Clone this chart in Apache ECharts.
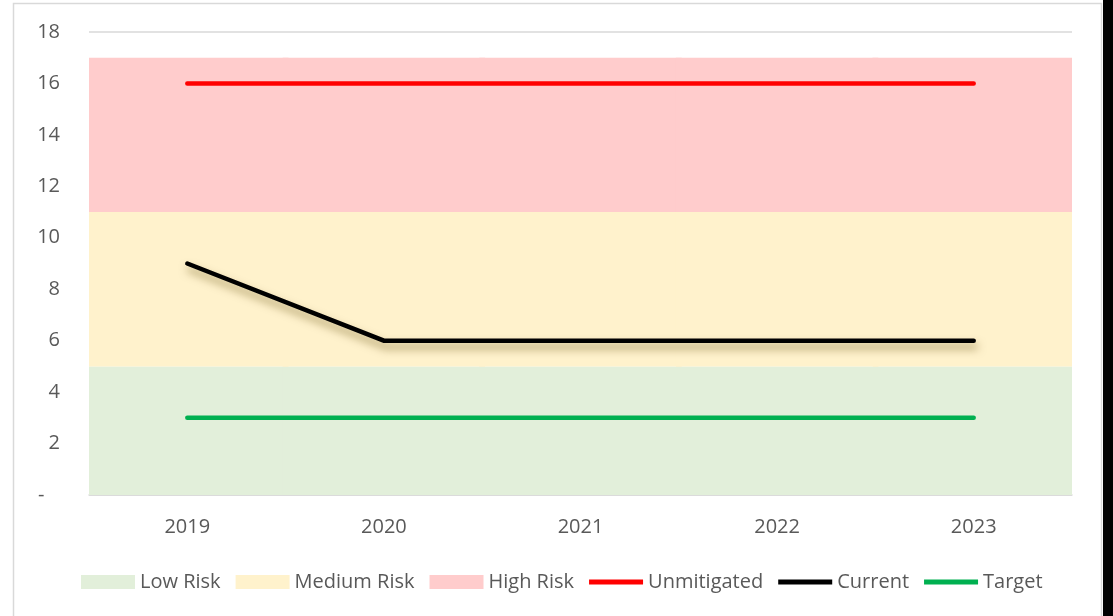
<!DOCTYPE html>
<html><head><meta charset="utf-8">
<script src="https://cdn.jsdelivr.net/npm/echarts@6/dist/echarts.min.js"></script>
<style>html,body{margin:0;padding:0;background:#fff}#c{width:1113px;height:616px}</style>
</head><body><div id="c"></div>
<script>
const categories = ['2019','2020','2021','2022','2023'];
const lowRisk = [5,5,5,5,5];
const mediumRisk = [6,6,6,6,6];
const highRisk = [6,6,6,6,6];
const unmitigated = [16,16,16,16,16];
const current = [9,6,6,6,6];
const target = [3,3,3,3,3];

const font = '"Open Sans", "Liberation Sans", sans-serif';
const lineIcon = 'path://M0,0 H56 V5 H0 Z';
const chart = echarts.init(document.getElementById('c'));
chart.setOption({
  animation: false,
  textStyle: {fontFamily: font},
  graphic: [
    {type:'rect', shape:{x:13.5,y:3.5,width:1088,height:620}, style:{fill:'none',stroke:'#d9d9d9',lineWidth:1.5}},
    {type:'rect', shape:{x:1103,y:0,width:10,height:616}, style:{fill:'#000000'}}
  ],
  grid: {left: 89, right: 41, top: 32, bottom: 121},
  legend: {
    bottom: 24, left: 81, padding: 0, itemWidth: 54, itemHeight: 14, itemGap: 15,
    textStyle: {color:'#595959', fontSize: 20, fontFamily: font},
    data: [
      {name:'Low Risk', icon:'rect'},
      {name:'Medium Risk', icon:'rect'},
      {name:'High Risk', icon:'rect'},
      {name:'Unmitigated', icon: lineIcon},
      {name:'Current', icon: lineIcon},
      {name:'Target', icon: lineIcon}
    ]
  },
  xAxis: {
    type:'category', data: categories, boundaryGap: true,
    axisLine: {show:true, lineStyle:{color:'#d9d9d9', width:1.5}},
    axisTick: {show:false},
    splitLine: {show:false},
    axisLabel: {color:'#595959', fontSize:20, margin:22, fontFamily: font}
  },
  yAxis: {
    type:'value', min:0, max:18, interval:2,
    axisLine:{show:false}, axisTick:{show:false},
    splitLine:{lineStyle:{color:'#d9d9d9', width:1.5}},
    axisLabel:{color:'#595959', fontSize:20, margin:29, fontFamily: font,
      formatter: v => v === 0 ? '-   ' : String(v)}
  },
  series: [
    {name:'Low Risk', type:'bar', stack:'risk', data: lowRisk, barWidth:'103%', clip:true, itemStyle:{color:'#e2efda'}},
    {name:'Medium Risk', type:'bar', stack:'risk', data: mediumRisk, barWidth:'103%', clip:true, itemStyle:{color:'#fff2cc'}},
    {name:'High Risk', type:'bar', stack:'risk', data: highRisk, barWidth:'103%', clip:true, itemStyle:{color:'#ffcccc'}},
    {name:'Unmitigated', type:'line', data: unmitigated, symbol:'none', lineStyle:{color:'#ff0000', width:4.5, cap:'round'}, itemStyle:{color:'#ff0000'}},
    {name:'Current', type:'line', data: current, symbol:'none', lineStyle:{color:'#000000', width:4.5, cap:'round', join:'miter', shadowColor:'rgba(90,70,0,0.5)', shadowBlur:8, shadowOffsetX:2, shadowOffsetY:6}, itemStyle:{color:'#000000'}},
    {name:'Target', type:'line', data: target, symbol:'none', lineStyle:{color:'#00b050', width:4.5, cap:'round'}, itemStyle:{color:'#00b050'}}
  ]
});
</script></body></html>
